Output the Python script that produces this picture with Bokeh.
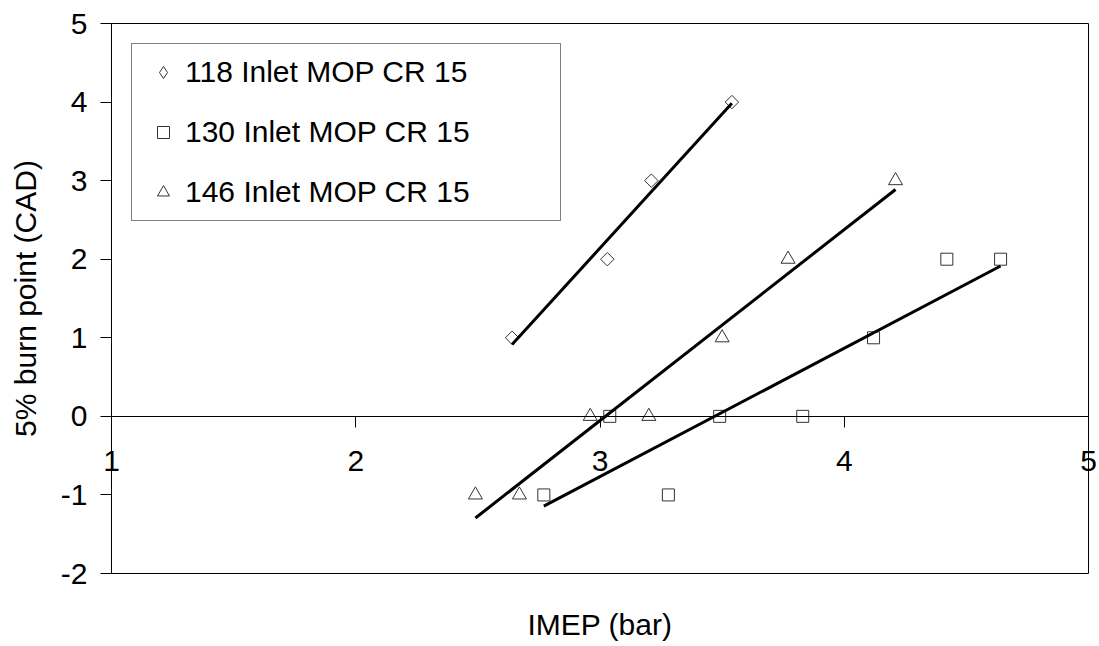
import numpy as np
from bokeh.plotting import figure
from bokeh.models import Legend, LegendItem, FixedTicker, Range1d, LinearAxis
from bokeh.embed import file_html
from bokeh.resources import INLINE

# IMEP (bar) against 5% burn point (CAD), one series per inlet MOP setting
imep_118 = [2.64, 3.03, 3.21, 3.54]
burn_118 = [1, 2, 3, 4]
imep_130 = [2.77, 3.04, 3.28, 3.49, 3.83, 4.12, 4.42, 4.64]
burn_130 = [-1, 0, -1, 0, 0, 1, 2, 2]
imep_146 = [2.49, 2.67, 2.96, 3.20, 3.50, 3.77, 4.21]
burn_146 = [-1, -1, 0, 0, 1, 2, 3]

series_names = ["118 Inlet MOP CR 15", "130 Inlet MOP CR 15", "146 Inlet MOP CR 15"]
x_ticks = [1, 2, 3, 4, 5]
y_ticks = [-2, -1, 0, 1, 2, 3, 4, 5]

FONT = "Liberation Sans"
SIZE = "30px"
EDGE = "#333333"

p = figure(width=1099, height=646, x_range=Range1d(1, 5), y_range=Range1d(-2, 5),
           output_backend="svg", toolbar_location=None,
           min_border_left=111, min_border_right=11,
           min_border_top=23, min_border_bottom=73)
p.background_fill_color = "white"
p.border_fill_color = "white"
p.outline_line_color = "black"
p.outline_line_width = 1
p.grid.visible = False

# left axis (plain hyphen for negatives)
ya = p.yaxis[0]
ya.ticker = FixedTicker(ticks=y_ticks)
ya.major_label_overrides = {t: str(t) for t in y_ticks}
ya.major_tick_in = 0
ya.major_tick_out = 11
ya.minor_tick_line_color = None
ya.axis_line_color = "black"
ya.major_tick_line_color = "black"
ya.major_label_text_font = FONT
ya.major_label_text_font_size = SIZE
ya.major_label_text_color = "black"
ya.major_label_standoff = 13
ya.axis_label = "5% burn point (CAD)"
ya.axis_label_text_font = FONT
ya.axis_label_text_font_size = SIZE
ya.axis_label_text_font_style = "normal"
ya.axis_label_text_color = "black"
ya.axis_label_standoff = 16

# bottom axis: its tick labels are lifted up to sit under the zero line,
# and it carries the title
xa = p.xaxis[0]
xa.ticker = FixedTicker(ticks=x_ticks)
xa.axis_line_color = None
xa.major_tick_line_color = None
xa.minor_tick_line_color = None
xa.major_tick_out = 0
xa.major_tick_in = 0
xa.major_label_standoff = -123
xa.major_label_text_font = FONT
xa.major_label_text_font_size = SIZE
xa.major_label_text_color = "black"
xa.axis_label = "IMEP (bar)"
xa.axis_label_text_font = FONT
xa.axis_label_text_font_size = SIZE
xa.axis_label_text_font_style = "normal"
xa.axis_label_text_color = "black"
xa.axis_label_standoff = 134

# value axis line and ticks crossing at zero
zero_axis = LinearAxis(fixed_location=0, ticker=FixedTicker(ticks=x_ticks),
                       axis_line_color="black", axis_line_width=1,
                       major_tick_line_color="black", major_tick_in=0,
                       major_tick_out=11, minor_tick_line_color=None,
                       major_label_text_color=None)
p.add_layout(zero_axis, "below")

# data points
r118 = p.scatter(imep_118, burn_118, marker="square", angle=np.pi / 4, size=9.5,
                 fill_color="white", line_color=EDGE, line_width=1)
r130 = p.scatter(imep_130, burn_130, marker="square", size=12,
                 fill_color="white", line_color=EDGE, line_width=1)
r146 = p.scatter(imep_146, burn_146, marker="triangle", size=14,
                 fill_color="white", line_color=EDGE, line_width=1)
# legend swatch for the rotated-square series (not plotted)
k118 = p.scatter([np.nan], [np.nan], marker="diamond", size=12,
                 fill_color="white", line_color=EDGE, line_width=1)

# linear trend lines over each series' range
for xs, ys in [(imep_118, burn_118), (imep_130, burn_130), (imep_146, burn_146)]:
    slope, icpt = np.polyfit(xs, ys, 1)
    xe = np.array([min(xs), max(xs)])
    p.line(xe, slope * xe + icpt, line_color="black", line_width=3)

legend = Legend(items=[LegendItem(label=n, renderers=[r])
                       for n, r in zip(series_names, [k118, r130, r146])],
                location="top_left", margin=20, padding=11, spacing=26,
                glyph_width=40, glyph_height=30, label_height=30,
                label_width=364, label_standoff=2,
                label_text_font=FONT, label_text_font_size=SIZE,
                label_text_color="black",
                border_line_color="black", border_line_width=1,
                background_fill_color="white", background_fill_alpha=1)
p.add_layout(legend)

open("out.html", "w").write(file_html(p, INLINE))
